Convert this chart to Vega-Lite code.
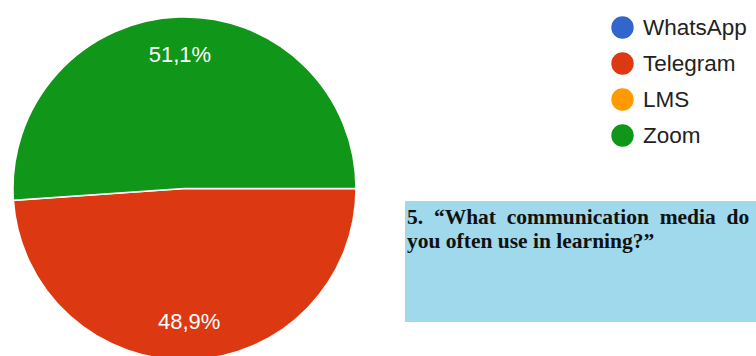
{
  "$schema": "https://vega.github.io/schema/vega-lite/v6.json",
  "background": "white",
  "padding": {"left": 10, "top": 14, "right": 0, "bottom": 0},
  "bounds": "flush",
  "spacing": 49,
  "config": {"view": {"stroke": null}, "font": "Liberation Sans"},
  "datasets": {
    "media": [
      {"media": "WhatsApp", "share": 0, "label": "0,0%"},
      {"media": "Telegram", "share": 48.9, "label": "48,9%"},
      {"media": "LMS", "share": 0, "label": "0,0%"},
      {"media": "Zoom", "share": 51.1, "label": "51,1%"}
    ],
    "question": [
      {"question": ["5.\u00a0\u00a0“What\u00a0\u00a0communication\u00a0\u00a0media\u00a0\u00a0do", "you often use in learning?”"]}
    ]
  },
  "hconcat": [
    {
      "width": 343,
      "height": 343,
      "data": {"name": "media"},
      "encoding": {
        "theta": {"field": "share", "type": "quantitative", "stack": true, "scale": {"range": [1.5708, 7.854]}}
      },
      "layer": [
        {
          "mark": {"type": "arc", "stroke": "white", "strokeWidth": 1.5},
          "encoding": {
            "color": {
              "field": "media",
              "type": "nominal",
              "scale": {"domain": ["WhatsApp", "Telegram", "LMS", "Zoom"], "range": ["#3366cc", "#dc3912", "#ff9900", "#109618"]},
              "legend": {
                "orient": "none",
                "legendX": 598,
                "legendY": -1,
                "title": null,
                "symbolType": "circle",
                "symbolSize": 500,
                "symbolStrokeWidth": 0,
                "symbolOpacity": 1,
                "labelFontSize": 22.5,
                "labelFont": "Liberation Sans",
                "labelColor": "#222222",
                "rowPadding": 13,
                "labelOffset": 9
              }
            }
          }
        },
        {
          "transform": [{"filter": "datum.share > 0"}],
          "mark": {"type": "text", "radius": 134, "fill": "white", "fontSize": 22, "font": "Liberation Sans"},
          "encoding": {
            "detail": {"field": "media", "type": "nominal"},
            "text": {"field": "label", "type": "nominal"}
          }
        }
      ]
    },
    {
      "spacing": 0,
      "vconcat": [
        {
          "width": 354,
          "height": 184,
          "data": {"values": []},
          "mark": "rect",
          "encoding": {}
        },
        {
          "width": 354,
          "height": 121,
          "data": {"name": "question"},
          "layer": [
            {
              "mark": {"type": "rect", "fill": "#a0d8ec"},
              "encoding": {}
            },
            {
              "mark": {"type": "text", "align": "left", "baseline": "alphabetic", "font": "Liberation Serif", "fontWeight": "bold", "fontSize": 21.5, "lineHeight": 24, "fill": "#111111", "dx": 2, "dy": 23},
              "encoding": {
                "x": {"datum": 0, "type": "quantitative", "scale": {"domain": [0, 1]}, "axis": null},
                "y": {"datum": 1, "type": "quantitative", "scale": {"domain": [0, 1]}, "axis": null},
                "text": {"field": "question"}
              }
            }
          ]
        }
      ]
    }
  ]
}
